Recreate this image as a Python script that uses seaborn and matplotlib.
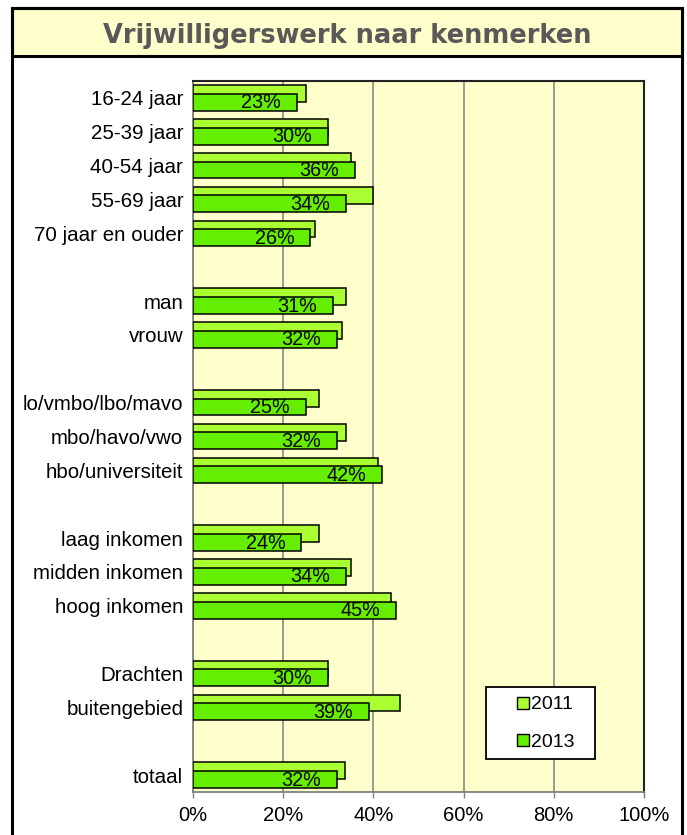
import pandas as pd
import matplotlib
matplotlib.use('Agg')
import matplotlib.pyplot as plt
import matplotlib.patches as mpatches
from matplotlib.lines import Line2D
import seaborn as sns

# Data (percentages)
kenmerken = ['16-24 jaar', '25-39 jaar', '40-54 jaar', '55-69 jaar', '70 jaar en ouder',
             'man', 'vrouw',
             'lo/vmbo/lbo/mavo', 'mbo/havo/vwo', 'hbo/universiteit',
             'laag inkomen', 'midden inkomen', 'hoog inkomen',
             'Drachten', 'buitengebied',
             'totaal']
waarden_2011 = [25, 30, 35, 40, 27, 34, 33, 28, 34, 41, 28, 35, 44, 30, 46, 33.6]
waarden_2013 = [23, 30, 36, 34, 26, 31, 32, 25, 32, 42, 24, 34, 45, 30, 39, 32]
jaren = ['2011', '2013']

# Row order with empty rows between the groups
volgorde = (kenmerken[0:5] + [' '] + kenmerken[5:7] + ['  '] + kenmerken[7:10] + ['   ']
            + kenmerken[10:13] + ['    '] + kenmerken[13:15] + ['     '] + kenmerken[15:])

data = pd.DataFrame({
    'kenmerk': kenmerken * 2,
    'waarde': waarden_2011 + waarden_2013,
    'jaar': [jaren[0]] * len(kenmerken) + [jaren[1]] * len(kenmerken),
})

kleuren = {'2011': '#AAFF33', '2013': '#66EE00'}

sns.set_style('white')
plt.rcParams['font.family'] = ['Liberation Sans', 'DejaVu Sans']
plt.rcParams['text.color'] = 'black'
plt.rcParams['xtick.color'] = 'black'
plt.rcParams['ytick.color'] = 'black'

W, H = 687, 835
fig = plt.figure(figsize=(W / 100, H / 100), dpi=100)
ax = fig.add_axes([193 / W, 1 - 792 / H, (644 - 193) / W, (792 - 81) / H])

sns.barplot(data=data, y='kenmerk', x='waarde', hue='jaar', order=volgorde,
            hue_order=jaren, palette=kleuren, saturation=1, dodge=False, width=0.5,
            errorbar=None, edgecolor='black', linewidth=1.1, legend=False,
            ax=ax, zorder=3)

# Excel-like overlap: 2011 a bit higher, 2013 a bit lower
verschuiving = 0.128
for p in ax.containers[0]:
    p.set_y(p.get_y() - verschuiving)
for p in ax.containers[1]:
    p.set_y(p.get_y() + verschuiving)

# Value labels for 2013, inside the bar end
for p, v in zip(ax.containers[1], ax.containers[1].datavalues):
    ax.annotate(f'{v:.0f}%', xy=(p.get_width(), p.get_y() + p.get_height() / 2),
                xytext=(-11.5, -0.5), textcoords='offset points',
                ha='right', va='center', fontsize=14.2, color='black', zorder=5)

# Axes styling
ax.set_facecolor('#FFFFCC')
ax.set_xlim(0, 100)
ax.set_xticks(range(0, 101, 20))
ax.set_xticklabels([f'{t}%' for t in range(0, 101, 20)], fontsize=14.5)
ax.tick_params(axis='y', labelsize=14.8, length=0, pad=7, labelcolor='black')
ax.tick_params(axis='x', length=4, width=1, color='#808080', pad=6, bottom=True,
               labelcolor='black')
ax.set_xlabel('')
ax.set_ylabel('')
ax.set_axisbelow(True)
ax.grid(axis='x', color='#808080', linewidth=1.1)
ax.grid(axis='y', visible=False)
for kant in ['left', 'bottom']:
    ax.spines[kant].set_color('#808080')
    ax.spines[kant].set_linewidth(1.3)
for kant in ['top', 'right']:
    ax.spines[kant].set_color('#222222')
    ax.spines[kant].set_linewidth(1.5)

# Legend: small squares, entries pushed towards the middle of the box
handles = [Line2D([], [], linestyle='none', marker='s', markersize=8,
                  markerfacecolor=kleuren[j], markeredgecolor='black', markeredgewidth=1,
                  label=j) for j in jaren]
leg = ax.legend(handles=handles, loc='lower left', bbox_to_anchor=(0.65, 0.046, 0.242, 0.107),
                mode='expand', fontsize=14, frameon=True, fancybox=False,
                handlelength=2.85, handletextpad=-1.0, labelspacing=1.0,
                borderpad=0.45, borderaxespad=0)
leg.get_frame().set_edgecolor('black')
leg.get_frame().set_linewidth(1.3)
leg.get_frame().set_facecolor('white')
leg.get_frame().set_alpha(1)

# Outer frame and title band
fig.add_artist(mpatches.Rectangle((12 / W, -0.01), (682 - 12) / W, 1 - 8 / H + 0.01,
                                  transform=fig.transFigure, facecolor='none',
                                  edgecolor='black', linewidth=2.2, zorder=10))
fig.add_artist(mpatches.Rectangle((12 / W, 1 - 56 / H), (682 - 12) / W, 48 / H,
                                  transform=fig.transFigure, facecolor='#FFFFCC',
                                  edgecolor='black', linewidth=2.2, zorder=9))
fig.text(347 / W, 1 - 43 / H, 'Vrijwilligerswerk naar kenmerken', ha='center', va='baseline',
         fontsize=18.5, fontweight='bold', color='#595959', family='DejaVu Sans', zorder=11)

plt.savefig('out.png', dpi=100)
